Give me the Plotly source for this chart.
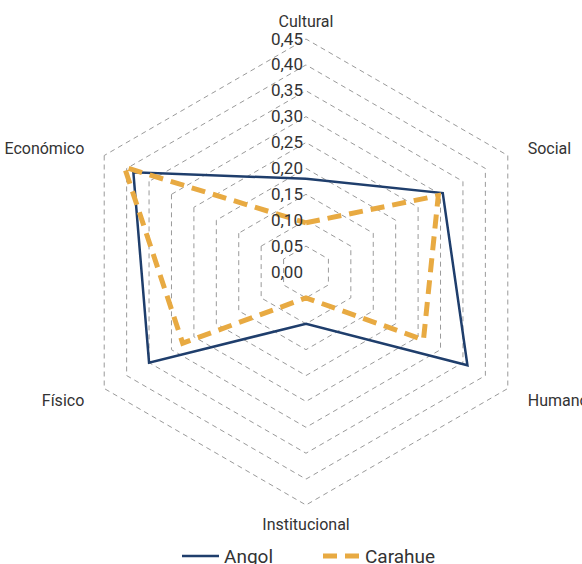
import plotly.graph_objects as go

categories = ["Cultural", "Social", "Humano", "Institucional", "Físico", "Económico"]
angol = [0.18, 0.305, 0.36, 0.10, 0.35, 0.385]
carahue = [0.095, 0.295, 0.262, 0.05, 0.275, 0.405]
tick_vals = [0.0, 0.05, 0.10, 0.15, 0.20, 0.25, 0.30, 0.35, 0.40, 0.45]

FONT = "Roboto, sans-serif"
W, H = 582, 564
cx, cy, R = 306, 272, 233
RMAX = 0.455
Rt = R * RMAX / 0.45

NB = "\u00a0\u00a0\u00a0"
angular_text = ["Cultural", NB + "Social", NB + "Humano", "Institucional", "Físico" + NB, "Económico" + NB]

fig = go.Figure()
fig.add_trace(go.Scatterpolar(
    r=angol + angol[:1], theta=categories + categories[:1],
    mode="lines", name="Angol",
    line=dict(color="#1f3e6c", width=2.5),
))
fig.add_trace(go.Scatterpolar(
    r=carahue + carahue[:1], theta=categories + categories[:1],
    mode="lines", name="Carahue",
    line=dict(color="#e8aa42", width=5, dash="14px,8px"),
))

fig.update_layout(
    width=W, height=H,
    margin=dict(l=0, r=0, t=0, b=0, autoexpand=False),
    paper_bgcolor="white",
    separators=",.",
    font=dict(family=FONT, size=17, color="#333333"),
    polar=dict(
        domain=dict(x=[(cx - Rt) / W, (cx + Rt) / W], y=[(H - cy - Rt) / H, (H - cy + Rt) / H]),
        gridshape="linear",
        bgcolor="white",
        radialaxis=dict(
            range=[0, RMAX], tickvals=tick_vals, tickformat=".2f",
            angle=90, tickangle=90, side="counterclockwise",
            showline=False, ticks="",
            showgrid=True, gridcolor="#9a9a9a", gridwidth=1, griddash="5px,4px",
            tickfont=dict(size=17, color="#333333"),
        ),
        angularaxis=dict(
            direction="clockwise", rotation=90,
            tickmode="array", tickvals=categories, ticktext=angular_text,
            showgrid=False, showline=False,
            ticks="outside", ticklen=3, tickcolor="rgba(0,0,0,0)",
            tickfont=dict(size=16, color="#333333"),
        ),
    ),
    legend=dict(
        orientation="h", x=177 / W, xanchor="left", y=0.014, yanchor="middle",
        font=dict(size=19, color="#333333"),
        itemwidth=37,
        entrywidth=89, entrywidthmode="pixels",
    ),
)

fig.write_html("out.html")
